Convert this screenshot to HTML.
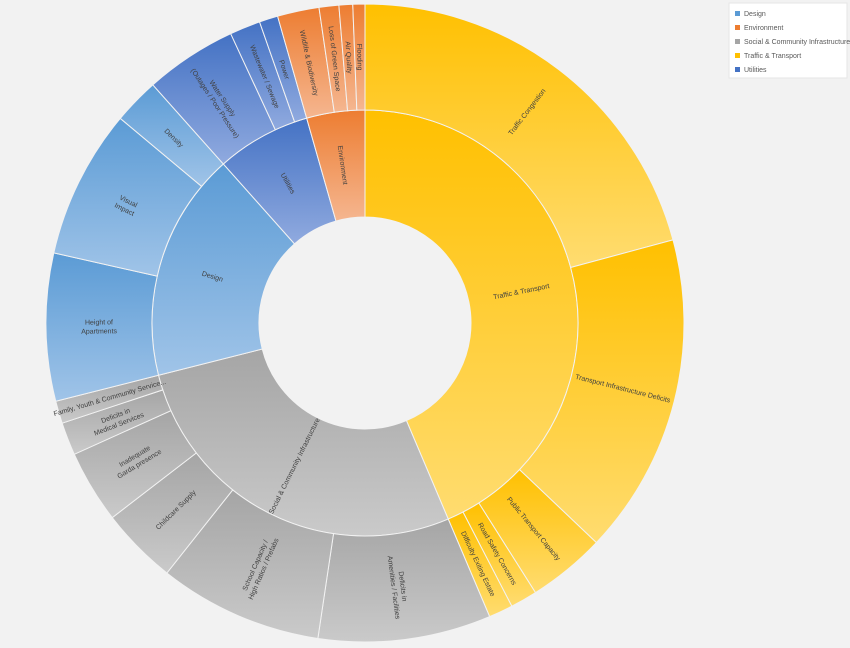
<!DOCTYPE html>
<html><head><meta charset="utf-8"><style>
html,body{margin:0;padding:0;background:#f2f2f2;}
svg{display:block;font-family:"Liberation Sans",sans-serif;}
</style></head><body>
<svg width="850" height="648" viewBox="0 0 850 648">
<defs id="defs"></defs>
<g id="chart"></g>
<g>
<rect x="729" y="3" width="118" height="75" fill="#fff" stroke="#e6e6e6"/>
<g font-size="7" fill="#595959">
<rect x="735" y="11" width="5" height="5" fill="#5B9BD5"/><text x="744" y="16">Design</text>
<rect x="735" y="25" width="5" height="5" fill="#ED7D31"/><text x="744" y="30">Environment</text>
<rect x="735" y="39" width="5" height="5" fill="#A5A5A5"/><text x="744" y="44">Social &amp; Community Infrastructure</text>
<rect x="735" y="53" width="5" height="5" fill="#FFC000"/><text x="744" y="58">Traffic &amp; Transport</text>
<rect x="735" y="67" width="5" height="5" fill="#4472C4"/><text x="744" y="72">Utilities</text>
</g></g>
</svg>
<script>
const categories = ["Traffic & Transport","Social & Community Infrastructure","Design","Utilities","Environment"];
const catColors = [["#FFC000","#FFDC70"],["#A5A5A5","#CACACA"],["#5B9BD5","#A0C4E8"],["#4472C4","#90AADF"],["#ED7D31","#F5B690"]];
const subLabels = [
 ["Traffic Congestion","Transport Infrastructure Deficits","Public Transport Capacity","Road Safety Concerns","Difficulty Exiting Estate"],
 ["Deficits in|Amenities / Facilities","School Capacity /|High Ratios / Prefabs","Childcare Supply","Inadequate|Garda presence","Deficits in|Medical Services","Family, Youth & Community Service..."],
 ["Height of|Apartments","Visual|Impact","Density"],
 ["Water Supply|(Outages / Poor Pressure)","Wastewater / Sewage","Power"],
 ["Wildlife & Biodiversity","Loss of Green Space","Air Quality","Flooding"]
];
const subValues = [
 [74.9,58.6,14.2,4.9,4.4],
 [31.5,29.9,14.0,13.3,6.0,4.1],
 [26.9,27.2,8.4],
 [16.8,5.6,3.4],
 [7.6,3.6,2.5,2.2]
];
const cx=365, cy=323, r0=106, r1=213, r2=319;
const svg=document.querySelector('svg'), g=document.getElementById('chart'), defs=document.getElementById('defs');
const NS='http://www.w3.org/2000/svg';
let gid=0;
function pt(r,a){const t=(a-90)*Math.PI/180;return [cx+r*Math.cos(t),cy+r*Math.sin(t)];}
function arc(ri,ro,a0,a1){const L=(a1-a0)>180?1:0;const p1=pt(ro,a0),p2=pt(ro,a1),p3=pt(ri,a1),p4=pt(ri,a0);
return `M${p1}A${ro},${ro} 0 ${L} 1 ${p2}L${p3}A${ri},${ri} 0 ${L} 0 ${p4}Z`;}
function grad(c){const lg=document.createElementNS(NS,'linearGradient');lg.id='g'+(gid++);
lg.setAttribute('x1','0');lg.setAttribute('y1','0');lg.setAttribute('x2','0');lg.setAttribute('y2','1');
lg.innerHTML=`<stop offset="0" stop-color="${c[0]}"/><stop offset="1" stop-color="${c[1]}"/>`;defs.appendChild(lg);return lg.id;}
function seg(ri,ro,a0,a1,c,name,label){
 const p=document.createElementNS(NS,'path');p.setAttribute('d',arc(ri,ro,a0,a1));
 p.setAttribute('fill','url(#'+grad(c)+')');p.setAttribute('stroke','#f2f2f2');p.setAttribute('stroke-width','1');
 
 
 g.appendChild(p);
 const m=(a0+a1)/2, [x,y]=pt((ri+ro)/2,m);
 let rot=m-90; if(rot>90) rot-=180; if(rot>90) rot-=180; if(rot<-90) rot+=180;
 const t=document.createElementNS(NS,'text');
 t.setAttribute('transform',`translate(${x},${y}) rotate(${rot})`);
 t.setAttribute('text-anchor','middle');t.setAttribute('font-size','7');t.setAttribute('fill','#404040');
 
 
 const lines=label.split('|');
 lines.forEach((s,i)=>{const ts=document.createElementNS(NS,'tspan');ts.setAttribute('x','0');
  ts.setAttribute('y',String((i-(lines.length-1)/2)*9+2.5));ts.textContent=s;t.appendChild(ts);});
 g.appendChild(t);
}
const total=subValues.flat().reduce((a,b)=>a+b,0);
let a=0;
categories.forEach((cat,i)=>{
 const ct=subValues[i].reduce((x,y)=>x+y,0);
 const a0=a, a1=a+ct/total*360;
 seg(r0,r1,a0,a1,catColors[i],'segment-'+cat.toLowerCase().replace(/[^a-z]+/g,'-'),cat);
 let b=a0;
 subValues[i].forEach((v,j)=>{const b1=b+v/total*360;
  seg(r1,r2,b,b1,catColors[i],'segment-'+subLabels[i][j].toLowerCase().replace(/[^a-z]+/g,'-'),subLabels[i][j]);b=b1;});
 a=a1;
});
</script>
</body></html>
